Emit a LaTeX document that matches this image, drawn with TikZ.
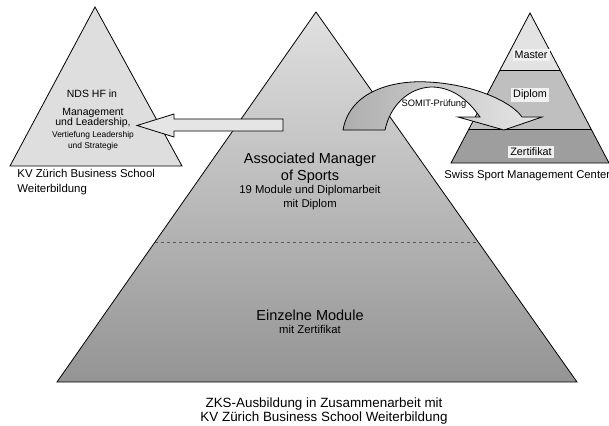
\documentclass[tikz,border=0pt]{standalone}
\usepackage{fontspec}
\setmainfont{Liberation Sans}
\usepackage{tikz}
\usetikzlibrary{calc}
\usetikzlibrary{shapes}
\usetikzlibrary{positioning}

\begin{document}
\begin{tikzpicture}[x=1pt, y=-1pt, line width=0.8pt,
  big/.style={align=center, inner sep=0pt, font=\fontsize{14.5}{17}\selectfont},
  small/.style={align=center, inner sep=0pt, font=\fontsize{11.3}{14}\selectfont},
  lbl/.style={fill=black!6, inner sep=2pt, font=\fontsize{10.8}{12}\selectfont}]
 \useasboundingbox (0,0) rectangle (609,425);
 % main pyramid
 \coordinate (mt) at (316,12);
 \coordinate (ml) at (57,382);
 \coordinate (mr) at (577,382);
 \shadedraw [top color=black!12, bottom color=black!42] (mt) -- (mr) -- (ml) -- cycle;
 \draw [dashed, black!65, line width=0.5pt] ($(mt)!0.622!(ml)$) -- ($(mt)!0.622!(mr)$);
 \node [big] (ams) at (310,168) {Associated Manager\\of Sports};
 \node [small] (amsd) at (310,198) {19 Module und Diplomarbeit\\mit Diplom};
 \node [big] (em) at (310,315) {Einzelne Module};
 \node [small] (emz) at (310,329) {mit Zertifikat};
 \node [align=center, inner sep=0pt, font=\fontsize{13.4}{13.5}\selectfont] (zks) at (324,411)
   {ZKS-Ausbildung in Zusammenarbeit mit\\KV Zürich Business School Weiterbildung};

 % right pyramid
 \coordinate (rt) at (530,13);
 \coordinate (rl) at (451,163);
 \coordinate (rr) at (609,163);
 \fill [black!38] (rt) -- (rr) -- (rl) -- cycle;
 \fill [black!25] (rt) -- ($(rt)!0.773!(rr)$) -- ($(rt)!0.773!(rl)$) -- cycle;
 \fill [black!11] (rt) -- ($(rt)!0.38!(rr)$) -- ($(rt)!0.38!(rl)$) -- cycle;
 \draw ($(rt)!0.38!(rl)$) -- ($(rt)!0.38!(rr)$);
 \draw ($(rt)!0.773!(rl)$) -- ($(rt)!0.773!(rr)$);
 \draw (rt) -- (rr) -- (rl) -- cycle;
 \node [lbl] (master) at (531,55) {Master};
 \node [lbl] (diplom) at (530,95) {Diplom};
 \node [lbl] (zert) at (531,152) {Zertifikat};
 \node [anchor=west, inner sep=0pt, font=\fontsize{11.3}{14}\selectfont] (ssmc) at (444,176) {Swiss Sport Management Center};

 % curved arrow
 \shadedraw [left color=black!32, right color=black!9]
   (343,130) .. controls (350,90) and (395,80) .. (428,82)
   .. controls (470,84) and (510,100) .. (522,117) -- (542,117) -- (504,130) -- (458,117) -- (480,117)
   .. controls (466,97) and (450,87) .. (431,87)
   .. controls (408,88) and (390,106) .. (385,130) -- cycle;
 \node [inner sep=0pt, font=\fontsize{9.3}{11}\selectfont] (somit) at (434,104) {SOMIT-Prüfung};

 % left pyramid
 \coordinate (lt) at (95,7);
 \coordinate (ll) at (10,166);
 \coordinate (lr) at (182,166);
 \draw [fill=black!13] (lt) -- (lr) -- (ll) -- cycle;
 \node [inner sep=0pt, font=\fontsize{10.5}{12}\selectfont] (nds) at (92,94) {NDS HF in};
 \node [align=center, inner sep=0pt, font=\fontsize{10.5}{10.5}\selectfont] (ml1) at (93,118) {Management\\und Leadership,};
 \node [align=center, inner sep=0pt, font=\fontsize{8.4}{11}\selectfont] (vl) at (93,140.5) {Vertiefung Leadership\\und Strategie};
 \node [anchor=north west, align=left, inner sep=0pt, font=\fontsize{11.4}{15}\selectfont] (kv) at (17,169) {KV Zürich Business School\\Weiterbildung};

 % straight arrow
 \draw [fill=black!10] (283,119) -- (174,119) -- (174,114) -- (137,125.5) -- (174,137) -- (174,131) -- (283,131) -- cycle;
\end{tikzpicture}
\end{document}
